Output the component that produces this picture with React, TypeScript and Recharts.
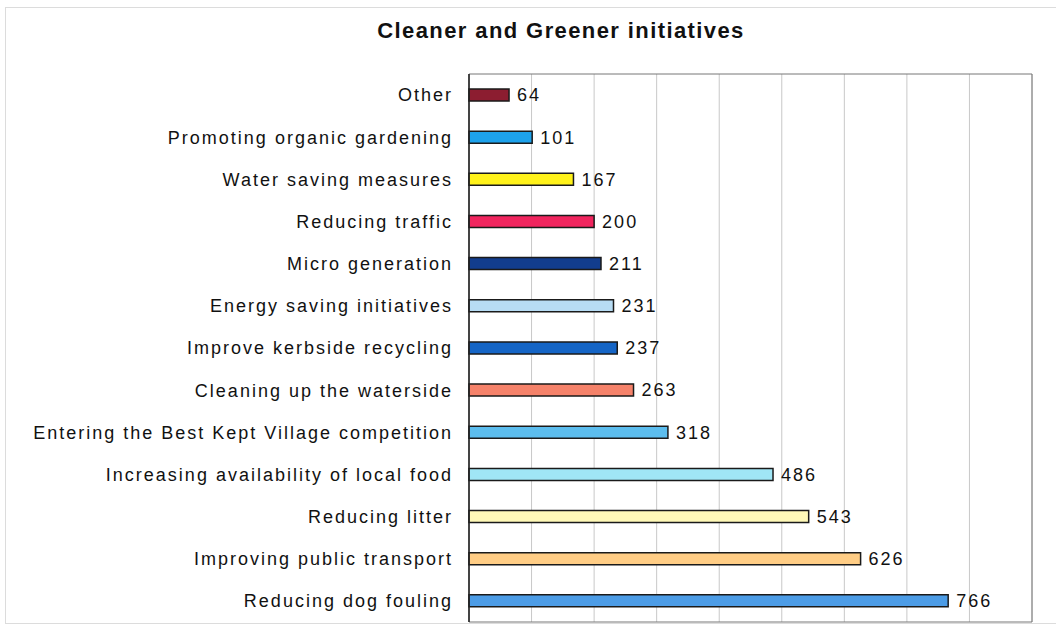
import React from "react";
import { BarChart, Bar, XAxis, YAxis, CartesianGrid, Cell, LabelList, ReferenceArea } from "recharts";

const categories = [
  "Other",
  "Promoting organic gardening",
  "Water saving measures",
  "Reducing traffic",
  "Micro generation",
  "Energy saving initiatives",
  "Improve kerbside recycling",
  "Cleaning up the waterside",
  "Entering the Best Kept Village competition",
  "Increasing availability of local food",
  "Reducing litter",
  "Improving public transport",
  "Reducing dog fouling",
];

const values = [64, 101, 167, 200, 211, 231, 237, 263, 318, 486, 543, 626, 766];

const colors = [
  "#8c1d30",
  "#1da2ec",
  "#fff21a",
  "#f0255e",
  "#123d8e",
  "#b7dcf4",
  "#1565c6",
  "#f5826a",
  "#5cbdee",
  "#a0e6f6",
  "#fff9b8",
  "#ffcd85",
  "#4c9ce6",
];

const xTicks = [0, 100, 200, 300, 400, 500, 600, 700, 800, 900];

const data = categories.map((name, i) => ({ name, value: values[i], color: colors[i] }));

const FONT = "'Liberation Sans', Arial, sans-serif";

export default function App() {
  return (
    <div
      style={{
        position: "absolute",
        left: 0,
        top: 0,
        width: 1056,
        height: 627,
        background: "#fff",
        fontFamily: FONT,
      }}
    >
      <div
        style={{
          position: "absolute",
          left: 5,
          top: 7,
          width: 1060,
          height: 617,
          border: "1px solid #dcdcdc",
          boxSizing: "border-box",
        }}
      />
      <div
        style={{
          position: "absolute",
          left: 0,
          top: 18,
          width: 1122,
          textAlign: "center",
          fontSize: 22,
          fontWeight: "bold",
          letterSpacing: 1.4,
          color: "#111",
          fontFamily: FONT,
        }}
      >
        Cleaner and Greener initiatives
      </div>
      <div style={{ position: "absolute", left: 0, top: 0 }}>
        <BarChart
          width={1056}
          height={627}
          data={data}
          layout="vertical"
          margin={{ top: 74, right: 24, bottom: 5, left: 0 }}
          barSize={12}
        >
          <CartesianGrid horizontal={false} vertical={true} stroke="#c8c8c8" strokeWidth={1} />
          <XAxis type="number" domain={[0, 900]} ticks={xTicks} hide />
          <YAxis
            type="category"
            dataKey="name"
            width={469}
            axisLine={{ stroke: "#222", strokeWidth: 1.5 }}
            tickLine={false}
            tickMargin={10}
            interval={0}
            tick={{ fill: "#111", fontSize: 18, fontFamily: FONT, letterSpacing: 2 }}
          />
          <ReferenceArea x1={0} x2={900} fill="none" stroke="#777" strokeWidth={1} ifOverflow="visible" />
          <Bar dataKey="value" isAnimationActive={false} stroke="#1a1a1a" strokeWidth={1.5}>
            {data.map((d, i) => (
              <Cell key={i} fill={d.color} />
            ))}
            <LabelList
              dataKey="value"
              position="right"
              offset={8}
              fill="#111"
              fontSize={18}
              fontFamily={FONT}
              letterSpacing={2}
            />
          </Bar>
        </BarChart>
      </div>
    </div>
  );
}
